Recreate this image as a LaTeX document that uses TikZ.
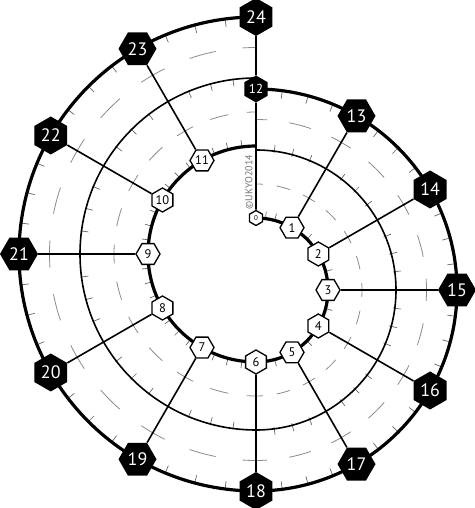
\documentclass[tikz,border=0pt]{standalone}
\usepackage{fontspec}
\setmainfont{PT Sans}
\usetikzlibrary{shapes.geometric,calc}
\begin{document}
\begin{tikzpicture}[x=1pt,y=1pt,
  hexw/.style={regular polygon, regular polygon sides=6, draw=black, line width=1.3pt, fill=white, inner sep=0pt, minimum size=24pt, font=\fontsize{12.5}{12.5}\selectfont},
  hexb/.style={regular polygon, regular polygon sides=6, fill=black, text=white, inner sep=0pt, minimum size=38pt, font=\fontsize{18}{18}\selectfont},
  wall/.style={line width=3.2pt},
  ring/.style={line width=1.6pt},
  spoke/.style={line width=1.6pt},
  tickmark/.style={line width=0.7pt, draw=black!60},
  mdash/.style={line width=0.8pt, draw=black!45},
]
\useasboundingbox (0,0) rectangle (474,508);
\fill[white] (0,0) rectangle (474,508);
\coordinate (R) at (256,218);
\coordinate (L) at (256,254);

% gray dashes in the bands
\foreach \r in {106,170.5} {
  \foreach \t in {0,15,...,180} {
    \pgfmathsetmacro\s{max(\t-3.75,0)}
    \pgfmathsetmacro\e{min(\t+3.75,180)}
    \draw[mdash] (R) ++({90-\s}:\r pt) arc[start angle={90-\s}, end angle={90-\e}, radius=\r pt];
  }
}
\foreach \r in {142,206.5} {
  \foreach \t in {180,195,...,360} {
    \pgfmathsetmacro\s{max(\t-3.75,180)}
    \pgfmathsetmacro\e{min(\t+3.75,360)}
    \draw[mdash] (L) ++({90-\s}:\r pt) arc[start angle={90-\s}, end angle={90-\e}, radius=\r pt];
  }
}

% tick marks
\foreach \ra/\rb in {72/79, 138/146, 201/193} {
  \foreach \k in {0,...,5} {
    \foreach \f in {7.5,15,22.5} {
      \pgfmathsetmacro\t{30*\k+\f}
      \draw[tickmark] ($(R)+({90-\t}:\ra pt)$) -- ($(R)+({90-\t}:\rb pt)$);
    }
  }
}
\foreach \ra/\rb in {108/115, 177/169, 237/229} {
  \foreach \k in {6,...,11} {
    \foreach \f in {7.5,15,22.5} {
      \pgfmathsetmacro\t{30*\k+\f}
      \draw[tickmark] ($(L)+({90-\t}:\ra pt)$) -- ($(L)+({90-\t}:\rb pt)$);
    }
  }
}

% walls and ring
\draw[wall] (R) ++(90:72pt) arc[start angle=90, end angle=-90, radius=72pt]
  arc[start angle=270, end angle=90, radius=108pt];
\draw[ring] (R) ++(90:140pt) arc[start angle=90, end angle=-90, radius=140pt]
  arc[start angle=270, end angle=90, radius=176pt];
\draw[wall] (R) ++(90:201pt) arc[start angle=90, end angle=-90, radius=201pt]
  arc[start angle=270, end angle=90, radius=237pt];

% nodes
\node[hexw, shape border rotate=30, minimum size=15pt, font=\fontsize{7}{7}\selectfont] (n0) at ($(R)+(90:72pt)$) {0};
\foreach \k in {1,...,6} {
  \ifodd\k \def\rot{0}\else\def\rot{30}\fi
  \node[hexw, shape border rotate=\rot] (n\k) at ($(R)+({90-30*\k}:72pt)$) {\k};
}
\foreach \k in {7,...,11} {
  \ifodd\k \def\rot{0}\else\def\rot{30}\fi
  \node[hexw, shape border rotate=\rot] (n\k) at ($(L)+({90-30*\k}:108pt)$) {\k};
}
\node[hexb, shape border rotate=30, minimum size=27pt, font=\fontsize{13}{13}\selectfont] (n12) at ($(R)+(90:201pt)$) {12};
\foreach \k in {13,...,17} {
  \ifodd\k \def\rot{0}\else\def\rot{30}\fi
  \node[hexb, shape border rotate=\rot] (n\k) at ($(R)+({90-30*(\k-12)}:201pt)$) {\k};
}
\foreach \k in {18,...,24} {
  \ifodd\k \def\rot{0}\else\def\rot{30}\fi
  \node[hexb, shape border rotate=\rot] (n\k) at ($(L)+({90-30*(\k-12)}:237pt)$) {\k};
}

% spokes
\foreach \k in {0,...,11} {
  \pgfmathtruncatemacro\m{\k+12}
  \draw[spoke] (n\k) -- (n\m);
}
\draw[spoke] (n12) -- (n24);

\node[rotate=90, font=\fontsize{10}{10}\selectfont, text=black!55, inner sep=0pt] (cp) at (249,326) {©UKYO2014};
\end{tikzpicture}
\end{document}
